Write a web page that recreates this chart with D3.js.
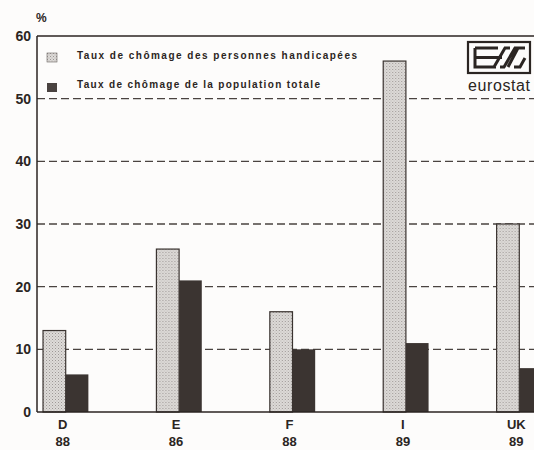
<!DOCTYPE html>
<html>
<head>
<meta charset="utf-8">
<script src="https://cdn.jsdelivr.net/npm/d3@7"></script>
<style>
   body { margin: 0; background: #fdfcfb; }
   svg { display: block; }
   text { font-family: "Liberation Sans", Arial, sans-serif; fill: #2b2522; }
</style>
</head>
<body>
<div id="chart"></div>
<script>
// Chart values.
const countries = ["D", "E", "F", "I", "UK"];
const years = ["88", "86", "88", "89", "89"];
const handicapped = [13, 26, 16, 56, 30];
const totalPop = [6, 21, 10, 11, 7];
const yTicks = [0, 10, 20, 30, 40, 50, 60];
const legendLabels = [
   "Taux de chômage des personnes handicapées",
   "Taux de chômage de la population totale"
];

const width = 534, height = 450;
const ink = "#2b2522";

let svg = d3.select("#chart")
   .append("svg")
   .attr("width", width)
   .attr("height", height);

// Stippled fill for the light bars
let defs = svg.append("defs");
let pat = defs.append("pattern")
   .attr("id", "dots")
   .attr("width", 3)
   .attr("height", 3)
   .attr("patternUnits", "userSpaceOnUse");
pat.append("rect").attr("width", 3).attr("height", 3).attr("fill", "#dedbd9");
pat.append("rect").attr("x", 0).attr("y", 0).attr("width", 1).attr("height", 1).attr("fill", "#9c9794");
pat.append("rect").attr("x", 1.5).attr("y", 1.5).attr("width", 1).attr("height", 1).attr("fill", "#b3afac");

let y = d3.scaleLinear()
   .domain([0, 60])
   .range([412, 36]);

// The chart runs off the right edge, so the band range goes past the width.
let x = d3.scaleBand()
   .domain(countries)
   .range([9, 576])
   .paddingInner(0.6)
   .paddingOuter(0.3);

let sub = d3.scaleBand()
   .domain(["h", "t"])
   .range([0, x.bandwidth()]);

// Dashed grid lines
svg.append("g")
   .selectAll("line")
   .data(yTicks.filter(d => d > 0 && d < 60))
   .enter()
   .append("line")
   .attr("x1", 37)
   .attr("x2", width)
   .attr("y1", d => y(d))
   .attr("y2", d => y(d))
   .attr("stroke", "#4a4340")
   .attr("stroke-width", 1.3)
   .attr("stroke-dasharray", "8,4");

// Frame: top line, left axis
svg.append("line")
   .attr("x1", 37).attr("x2", width)
   .attr("y1", y(60)).attr("y2", y(60))
   .attr("stroke", ink).attr("stroke-width", 1.3);
svg.append("line")
   .attr("x1", 37).attr("x2", 37)
   .attr("y1", y(60)).attr("y2", y(0))
   .attr("stroke", ink).attr("stroke-width", 1.5);

// Bars
let groups = svg.append("g")
   .selectAll("g")
   .data(countries)
   .enter()
   .append("g")
   .attr("transform", d => "translate(" + x(d) + ",0)");

groups.append("rect")
   .attr("x", sub("h"))
   .attr("y", (d, i) => y(handicapped[i]))
   .attr("width", sub.bandwidth())
   .attr("height", (d, i) => y(0) - y(handicapped[i]))
   .attr("fill", "url(#dots)")
   .attr("stroke", "#3a3330")
   .attr("stroke-width", 1.2);

groups.append("rect")
   .attr("x", sub("t"))
   .attr("y", (d, i) => y(totalPop[i]))
   .attr("width", sub.bandwidth())
   .attr("height", (d, i) => y(0) - y(totalPop[i]))
   .attr("fill", "#3b3431");

svg.append("line")
   .attr("x1", 37).attr("x2", width)
   .attr("y1", y(0)).attr("y2", y(0))
   .attr("stroke", ink).attr("stroke-width", 1.5);

// Y tick labels
svg.append("g")
   .selectAll("text")
   .data(yTicks)
   .enter()
   .append("text")
   .attr("x", 31)
   .attr("y", d => y(d) + 5)
   .attr("text-anchor", "end")
   .attr("font-size", 14)
   .attr("font-weight", "bold")
   .text(d => d);

svg.append("text")
   .attr("x", 36)
   .attr("y", 22)
   .attr("font-size", 12)
   .attr("font-weight", "bold")
   .text("%");

// Category labels
let labels = svg.append("g")
   .selectAll("g")
   .data(countries)
   .enter()
   .append("g")
   .attr("transform", d => "translate(" + (x(d) + x.bandwidth() / 2 - 3) + ",0)");

labels.append("text")
   .attr("y", 429)
   .attr("text-anchor", "middle")
   .attr("font-size", 13)
   .attr("font-weight", "bold")
   .text(d => d);

labels.append("text")
   .attr("y", 446)
   .attr("text-anchor", "middle")
   .attr("font-size", 13)
   .attr("font-weight", "bold")
   .text((d, i) => years[i]);

// Legend
let legend = svg.append("g")
   .selectAll("g")
   .data(legendLabels)
   .enter()
   .append("g")
   .attr("transform", (d, i) => "translate(47," + (53 + i * 30) + ")");

legend.append("rect")
   .attr("width", 10)
   .attr("height", 9)
   .attr("fill", (d, i) => i == 0 ? "url(#dots)" : "#4a4340")
   .attr("stroke", (d, i) => i == 0 ? "#6a6360" : "none")
   .attr("stroke-width", 0.6);

legend.append("text")
   .attr("x", 30)
   .attr("y", (d, i) => i == 0 ? 6 : 5)
   .attr("font-size", 10)
   .attr("font-weight", "bold")
   .attr("lengthAdjust", "spacing")
   .attr("textLength", (d, i) => i == 0 ? 280 : 243)
   .text(d => d);

// Eurostat logo
let logo = svg.append("g").attr("transform", "translate(468,42)");
logo.append("rect")
   .attr("width", 62).attr("height", 31)
   .attr("fill", "none").attr("stroke", ink).attr("stroke-width", 2.2);
logo.append("path")
   .attr("d", "M7,6 H30 M7,6 V25 H28 M7,15.5 H26 M14,15.5 H34 M26,25 L37,6 H42 M32,25 H36 L47,6 H57 M40,25 L50,6 M46,25 H52 L57,16")
   .attr("fill", "none").attr("stroke", ink).attr("stroke-width", 3);
logo.append("text")
   .attr("x", 31)
   .attr("y", 49)
   .attr("text-anchor", "middle")
   .attr("font-size", 16)
   .attr("textLength", 62)
   .text("eurostat");
</script>
</body>
</html>
